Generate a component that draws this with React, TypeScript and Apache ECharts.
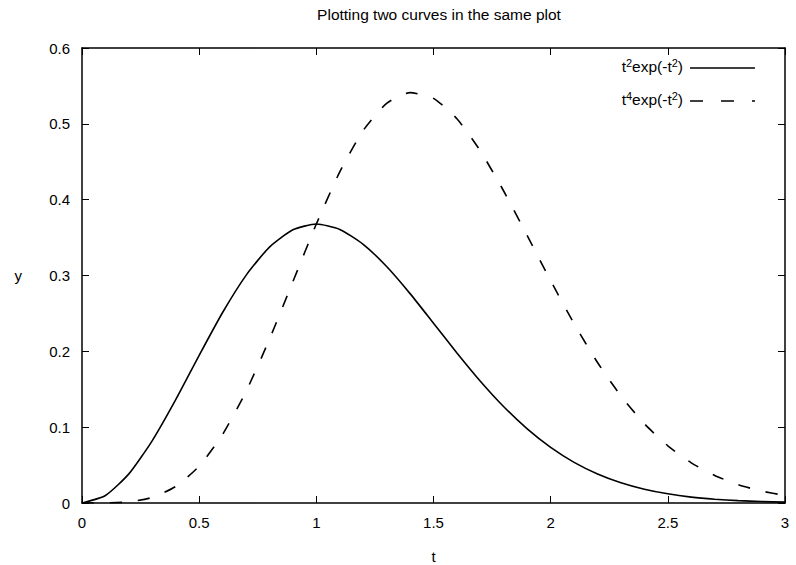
import React, { useEffect, useRef } from "react";
import * as echarts from "echarts";

const tValues = [0, 0.1, 0.2, 0.3, 0.4, 0.5, 0.6, 0.7, 0.8, 0.9, 1.0, 1.1, 1.2, 1.3, 1.4, 1.5, 1.6, 1.7, 1.8, 1.9, 2.0, 2.1, 2.2, 2.3, 2.4, 2.5, 2.6, 2.7, 2.8, 2.9, 3.0];
const curve1 = [0, 0.0099, 0.0384, 0.0823, 0.1363, 0.1947, 0.2512, 0.3002, 0.3375, 0.3603, 0.3679, 0.3608, 0.3412, 0.3118, 0.2761, 0.2371, 0.1979, 0.1606, 0.1269, 0.0977, 0.0733, 0.0536, 0.0383, 0.0267, 0.0182, 0.0121, 0.0078, 0.005, 0.0031, 0.0019, 0.0011];
const curve2 = [0, 0.0001, 0.0015, 0.0074, 0.0218, 0.0487, 0.0904, 0.1471, 0.216, 0.2919, 0.3679, 0.4366, 0.4913, 0.527, 0.5411, 0.5336, 0.5066, 0.4642, 0.4111, 0.3525, 0.2931, 0.2364, 0.1852, 0.1411, 0.1045, 0.0754, 0.053, 0.0363, 0.0242, 0.0157, 0.01];
const xTicks = [0, 0.5, 1, 1.5, 2, 2.5, 3];
const yTicks = [0, 0.1, 0.2, 0.3, 0.4, 0.5, 0.6];
const titleText = "Plotting two curves in the same plot";
const xName = "t";
const yName = "y";

const FONT = "'Liberation Sans', Arial, Helvetica, sans-serif";

export default function App() {
  const ref = useRef<HTMLDivElement>(null);
  useEffect(() => {
    if (!ref.current) return;
    const chart = echarts.init(ref.current, undefined, { renderer: "svg" });
    const tickLabel = { color: "#000", fontFamily: FONT, fontSize: 15 };
    const axisBase = {
      type: "value" as const,
      axisLine: { show: true, onZero: false, lineStyle: { color: "#000", width: 1.5 } },
      axisTick: { show: true, inside: true, length: 7, lineStyle: { color: "#000", width: 1 } },
      splitLine: { show: false },
    };
    const sup = { fontSize: 11, verticalAlign: "top" as const, padding: [0, 0, 7, 0], fontFamily: FONT, color: "#000" };
    const norm = { fontSize: 15.5, fontFamily: FONT, color: "#000" };
    chart.setOption({
      animation: false,
      backgroundColor: "#fff",
      title: {
        text: titleText,
        left: 434,
        top: 1,
        textAlign: "center",
        textStyle: { fontFamily: FONT, fontSize: 15.5, fontWeight: "normal", color: "#000" },
      },
      grid: { left: 82, right: 11, top: 48, bottom: 62, containLabel: false, outerBoundsMode: "none" },
      xAxis: [
        {
          ...axisBase,
          min: 0,
          max: 3,
          interval: 0.5,
          position: "bottom",
          name: xName,
          nameLocation: "middle",
          nameGap: 46,
          nameTextStyle: { color: "#000", fontFamily: FONT, fontSize: 15 },
          axisLabel: { ...tickLabel, margin: 12, formatter: (v: number) => (xTicks.includes(v) ? String(v) : "") },
        },
        {
          ...axisBase,
          min: 0,
          max: 3,
          interval: 0.5,
          position: "top",
          axisLabel: { show: false },
        },
      ],
      yAxis: [
        {
          ...axisBase,
          min: 0,
          max: 0.6,
          interval: 0.1,
          position: "left",
          name: yName,
          nameLocation: "middle",
          nameGap: 60,
          nameRotate: 0,
          nameTextStyle: { color: "#000", fontFamily: FONT, fontSize: 15 },
          axisLabel: { ...tickLabel, margin: 12, formatter: (v: number) => { const r = Math.round(v * 10) / 10; return yTicks.includes(r) ? String(r) : ""; } },
        },
        {
          ...axisBase,
          min: 0,
          max: 0.6,
          interval: 0.1,
          position: "right",
          axisLabel: { show: false },
        },
      ],
      series: [
        {
          type: "line",
          name: "c1",
          data: tValues.map((t, i) => [t, curve1[i]]),
          showSymbol: false,
          symbol: "none",
          smooth: 0.2,
          lineStyle: { color: "#000", width: 1.6, type: "solid" },
        },
        {
          type: "line",
          name: "c2",
          data: tValues.map((t, i) => [t, curve2[i]]),
          showSymbol: false,
          symbol: "none",
          smooth: 0.2,
          lineStyle: { color: "#000", width: 1.6, type: [12, 16] },
        },
      ],
      graphic: [
        {
          type: "text",
          right: 796 - 683,
          top: 57,
          style: {
            text: "t{sup|2}exp(-t{sup|2})",
            rich: { sup, n: norm },
            ...norm,
          },
        },
        {
          type: "text",
          right: 796 - 683,
          top: 90,
          style: {
            text: "t{sup|4}exp(-t{sup|2})",
            rich: { sup, n: norm },
            ...norm,
          },
        },
        {
          type: "line",
          shape: { x1: 690, y1: 68, x2: 755, y2: 68 },
          style: { stroke: "#000", lineWidth: 1.6 },
        },
        {
          type: "line",
          shape: { x1: 690, y1: 101, x2: 755, y2: 101 },
          style: { stroke: "#000", lineWidth: 1.6, lineDash: [13, 18] },
        },
      ],
    });
    return () => chart.dispose();
  }, []);
  return <div ref={ref} style={{ width: 796, height: 565, position: "absolute", left: 0, top: 0 }} />;
}
